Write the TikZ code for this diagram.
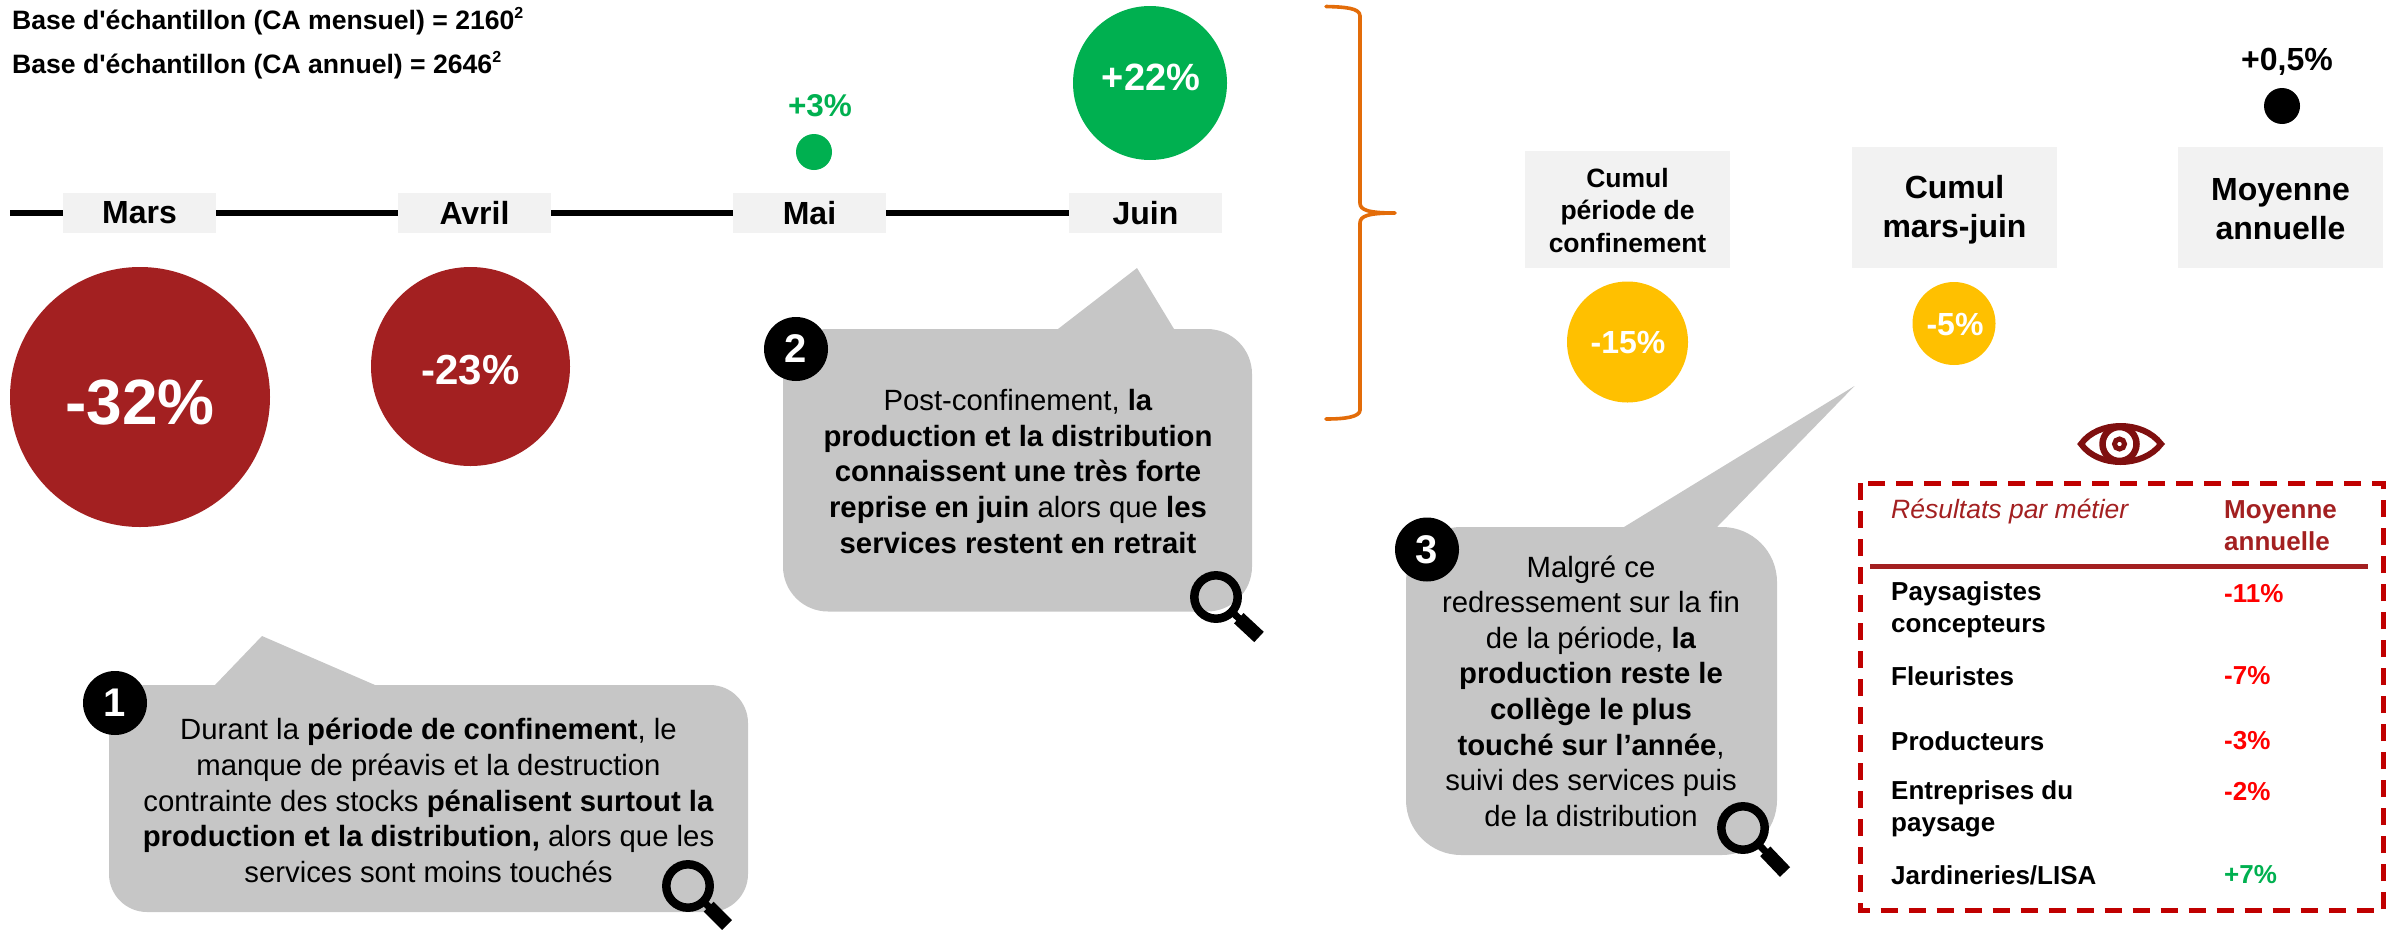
\documentclass[tikz,border=0pt]{standalone}
\usepackage{fontspec}
\setmainfont{Liberation Sans}[Ligatures=TeXOff]
\definecolor{darkred}{HTML}{A32021}
\definecolor{dashred}{HTML}{C00000}
\definecolor{okgreen}{HTML}{00B050}
\definecolor{amber}{HTML}{FFC000}
\definecolor{bubble}{HTML}{C6C6C6}
\definecolor{labelbg}{HTML}{F2F2F2}
\definecolor{bracecol}{HTML}{E36C09}
\definecolor{eyecol}{HTML}{7F0F0F}
\newcommand{\fs}[2]{\fontsize{#1}{#2}\selectfont}
\newcommand{\supn}{\raisebox{0.38em}{\fontsize{16}{16}\selectfont 2}}
\tikzset{
 monthbox/.style={fill=labelbg,inner sep=0pt,minimum width=153,minimum height=40,font=\fs{32}{36}\bfseries},
 sumbox/.style={fill=labelbg,inner sep=0pt,minimum width=205,align=center},
 disc/.style={circle,inner sep=0pt,text=white,font=\bfseries},
 plain/.style={inner sep=0pt},
 bubbleshape/.style={fill=bubble,draw=none},
 tline/.style={line width=6pt,black},
 badge/.style={circle,fill=black,text=white,inner sep=0pt,minimum size=64,font=\fs{40}{44}\bfseries},
 bodytext/.style={inner sep=0pt,align=center,font=\fs{29.3}{35.6}},
 lensring/.style={draw=black,line width=8.5pt},
 lensneck/.style={line width=7pt,black},
 lenshandle/.style={line width=14pt,black},
 rowl/.style={inner sep=0pt,anchor=west,align=left,font=\fs{26}{32}\bfseries},
 rowv/.style={inner sep=0pt,anchor=west,font=\fs{26}{32}\bfseries},
}
\begin{document}
\begin{tikzpicture}[x=1pt,y=-1pt]
\useasboundingbox (0,0) rectangle (2397,929);
% header
\node[plain,anchor=base west,font=\fs{26.6}{28}\bfseries] (h1) at (12,29) {Base d'échantillon (CA mensuel) = 2160\supn};
\node[plain,anchor=base west,font=\fs{26.6}{28}\bfseries] (h2) at (12,73) {Base d'échantillon (CA annuel) = 2646\supn};
% timeline
\coordinate (tstart) at (10,213);
\node[monthbox] (mars) at (139.5,213) {Mars};
\node[monthbox] (avril) at (474.5,213) {Avril};
\node[monthbox] (mai) at (809.5,213) {Mai};
\node[monthbox,minimum width=153] (juin) at (1145.5,213) {Juin};
\draw[tline] (tstart) -- (mars);
\draw[tline] (mars) -- (avril);
\draw[tline] (avril) -- (mai);
\draw[tline] (mai) -- (juin);
% discs
\node[disc,fill=darkred,minimum size=260] (d32) at (140,397) {};
\node[plain,text=white,font=\fs{64}{66}\bfseries] (t32) at (140,403) {-32\%};
\node[disc,fill=darkred,minimum size=199] (d23) at (470.5,366.5) {};
\node[plain,text=white,font=\fs{42}{46}\bfseries] (t23) at (470.5,370) {-23\%};
\node[disc,fill=okgreen,minimum size=36] (d3) at (814,152) {};
\node[plain,text=okgreen,font=\fs{31.5}{34}\bfseries] (t3) at (820,106) {+3\%};
\node[disc,fill=okgreen,minimum size=154] (d22) at (1150,83) {};
\node[plain,text=white,font=\fs{38}{40}\bfseries] (t22) at (1151,77) {+22\%};
% brace
\draw[bracecol,line width=3.6pt,line cap=round,line join=round]
 (1326,6.5) .. controls (1345,7) and (1360,8) .. (1360,16) -- (1360,203)
 .. controls (1360,210) and (1368,213) .. (1395,213)
 .. controls (1368,213) and (1360,216) .. (1360,223) -- (1360,410)
 .. controls (1360,417) and (1345,419) .. (1326,419);
% callout 1
\fill[bubbleshape] (215,685) -- (262,636) -- (375,685) -- (710,685)
 arc[start angle=-90,end angle=0,radius=38] -- (748,874)
 arc[start angle=0,end angle=90,radius=38] -- (147,912)
 arc[start angle=90,end angle=180,radius=38] -- (109,723)
 arc[start angle=180,end angle=270,radius=38] -- cycle;
\node[bodytext] (txt1) at (428.5,800.5) {Durant la \textbf{période de confinement}, le\\manque de préavis et la destruction\\contrainte des stocks \textbf{pénalisent surtout la}\\\textbf{production et la distribution,} alors que les\\services sont moins touchés};
\node[badge] (b1) at (115,703) {1};
% callout 2
\fill[bubbleshape] (1058,329) -- (1137,268) -- (1174,329) -- (1207,329)
 arc[start angle=-90,end angle=0,radius=45] -- (1252,566.5)
 arc[start angle=0,end angle=90,radius=45] -- (828,611.5)
 arc[start angle=90,end angle=180,radius=45] -- (783,374)
 arc[start angle=180,end angle=270,radius=45] -- cycle;
\node[bodytext] (txt2) at (1018,471.5) {Post-confinement, \textbf{la}\\\textbf{production et la distribution}\\\textbf{connaissent une très forte}\\\textbf{reprise en juin} alors que \textbf{les}\\\textbf{services restent en retrait}};
\node[badge] (b2) at (796,349) {2};
% callout 3
\fill[bubbleshape] (1624,527) -- (1854.5,386) -- (1717,527) -- (1722,527)
 arc[start angle=-90,end angle=0,radius=55] -- (1777,800)
 arc[start angle=0,end angle=90,radius=55] -- (1461,855)
 arc[start angle=90,end angle=180,radius=55] -- (1406,582)
 arc[start angle=180,end angle=270,radius=55] -- cycle;
\node[bodytext] (txt3) at (1591,691) {Malgré ce\\redressement sur la fin\\de la période, \textbf{la}\\\textbf{production reste le}\\\textbf{collège le plus}\\\textbf{touché sur l’année},\\suivi des services puis\\de la distribution};
\node[badge] (b3) at (1427,549.5) {3};
% magnifiers
\foreach \cx/\cy/\ex/\ey in {688/886/727/925, 1216/597/1259/637, 1743/828/1785/872}{
 \draw[lensneck] ({\cx+0.35*(\ex-\cx)},{\cy+0.35*(\ey-\cy)}) -- ({\cx+0.6*(\ex-\cx)},{\cy+0.6*(\ey-\cy)});
 \draw[lenshandle] ({\cx+0.53*(\ex-\cx)},{\cy+0.53*(\ey-\cy)}) -- (\ex,\ey);
 \draw[lensring] (\cx,\cy) circle[radius=21.7];
}
% summary
\node[sumbox,minimum height=117] (s1) at (1627.5,209.5) {};
\node[plain,align=center,font=\fs{26.5}{32.5}\bfseries] (s1t) at (1627.5,210.5) {Cumul\\période de\\confinement};
\node[sumbox,minimum height=121] (s2) at (1954.5,207.5) {};
\node[plain,align=center,font=\fs{32}{39}\bfseries] (s2t) at (1954.5,209.5) {Cumul\\mars-juin};
\node[sumbox,minimum height=121] (s3) at (2280.5,207.5) {};
\node[plain,align=center,font=\fs{32}{39}\bfseries] (s3t) at (2280.5,209.5) {Moyenne\\annuelle};
\node[disc,fill=amber,minimum size=121] (d15) at (1627.5,342) {};
\node[plain,text=white,font=\fs{32}{36}\bfseries] (t15) at (1628,343) {-15\%};
\node[disc,fill=amber,minimum size=83] (d5) at (1954,323.5) {};
\node[plain,text=white,font=\fs{32}{36}\bfseries] (t5) at (1955,325) {-5\%};
\node[disc,fill=black,minimum size=36] (d05) at (2282,106) {};
\node[plain,font=\fs{32}{36}\bfseries] (t05) at (2287,62) {+0,5\%};
% eye
\begin{scope}[eyecol]
\draw[line width=6pt,line join=miter] (2081,444) .. controls (2098,420) and (2143,420) .. (2161,444) .. controls (2143,468) and (2098,468) .. cycle;
\draw[line width=6.5pt] (2119.5,444) circle[radius=17];
\draw[line width=5pt] (2119.5,444) circle[radius=5];
\end{scope}
% table
\draw[dashred,line width=5pt,dash pattern=on 17pt off 11pt] (1860,483) rectangle (2383,910.5);
\node[rowl,text=darkred,font=\fs{26.5}{32}\itshape] (th1) at (1891,511) {Résultats par métier};
\node[rowl,text=darkred] (th2) at (2224,526) {Moyenne\\annuelle};
\coordinate (rulel) at (1870,566);
\coordinate (ruler) at (2368,566);
\draw[darkred,line width=5pt] (rulel) -- (ruler);
\node[rowl] (r1) at (1891,610) {Paysagistes\\concepteurs};
\node[rowv,text=red] (v1) at (2224,594) {-11\%};
\node[rowl] (r2) at (1891,676) {Fleuristes};
\node[rowv,text=red] (v2) at (2224,676) {-7\%};
\node[rowl] (r3) at (1891,741) {Producteurs};
\node[rowv,text=red] (v3) at (2224,741) {-3\%};
\node[rowl] (r4) at (1891,808.5) {Entreprises du\\paysage};
\node[rowv,text=red] (v4) at (2224,792) {-2\%};
\node[rowl] (r5) at (1891,875) {Jardineries/LISA};
\node[rowv,text=okgreen] (v5) at (2224,875) {+7\%};
\end{tikzpicture}
\end{document}
